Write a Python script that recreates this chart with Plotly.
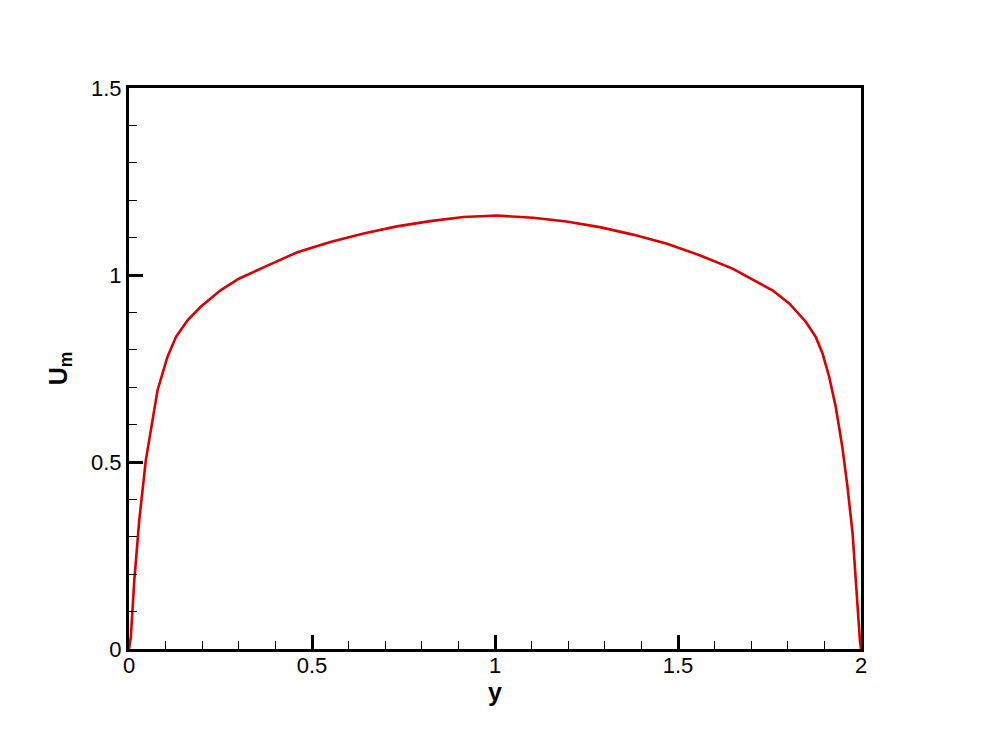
import plotly.graph_objects as go

# Profile data
y_vals = [0.0, 0.005, 0.0145, 0.028, 0.046, 0.064, 0.078, 0.105, 0.128, 0.160, 0.196,
          0.25, 0.30, 0.369, 0.460, 0.550, 0.641, 0.732, 0.823, 0.914, 1.005,
          1.104, 1.195, 1.286, 1.377, 1.468, 1.559, 1.649, 1.758, 1.804, 1.849,
          1.876, 1.895, 1.913, 1.931, 1.949, 1.963, 1.977, 1.986, 1.993, 1.997, 2.0]
u_m = [0.0, 0.032, 0.184, 0.344, 0.505, 0.612, 0.692, 0.781, 0.834, 0.879, 0.915,
       0.959, 0.990, 1.021, 1.061, 1.088, 1.111, 1.130, 1.144, 1.155, 1.159,
       1.153, 1.143, 1.128, 1.108, 1.084, 1.053, 1.017, 0.959, 0.924, 0.875,
       0.835, 0.790, 0.728, 0.647, 0.540, 0.434, 0.309, 0.175, 0.069, 0.024, 0.0]

x_tickvals = [0, 0.5, 1, 1.5, 2]
x_ticktext = ["0", "0.5", "1", "1.5", "2"]
y_tickvals = [0, 0.5, 1, 1.5]
y_ticktext = ["0", "0.5", "1", "1.5"]

FONT = "Liberation Sans, Arial, sans-serif"

fig = go.Figure()
fig.add_trace(go.Scatter(x=y_vals, y=u_m, mode="lines",
                         line=dict(color="#d90000", width=2.6),
                         showlegend=False))

axis_common = dict(
    showline=True, linecolor="black", linewidth=3, mirror=True,
    showgrid=False, zeroline=False,
    ticks="inside", ticklen=14, tickwidth=3, tickcolor="black",
    tickfont=dict(family=FONT, size=22, color="black"),
    minor=dict(ticks="inside", ticklen=8, tickwidth=1, tickcolor="black", dtick=0.1),
)

fig.update_layout(
    width=973, height=722,
    margin=dict(l=121, r=120, t=80, b=81),
    plot_bgcolor="white", paper_bgcolor="white",
    xaxis=dict(range=[0, 2], tickvals=x_tickvals, ticktext=x_ticktext,
               ticklabelstandoff=-5,
               title=dict(text="<b>y</b>", font=dict(family=FONT, size=25, color="black"), standoff=0),
               **axis_common),
    yaxis=dict(range=[0, 1.5], tickvals=y_tickvals, ticktext=y_ticktext,
               title=dict(text="<b>U<sub>m</sub></b>", font=dict(family=FONT, size=25, color="black"), standoff=17),
               **axis_common),
)

fig.write_html("out.html")
